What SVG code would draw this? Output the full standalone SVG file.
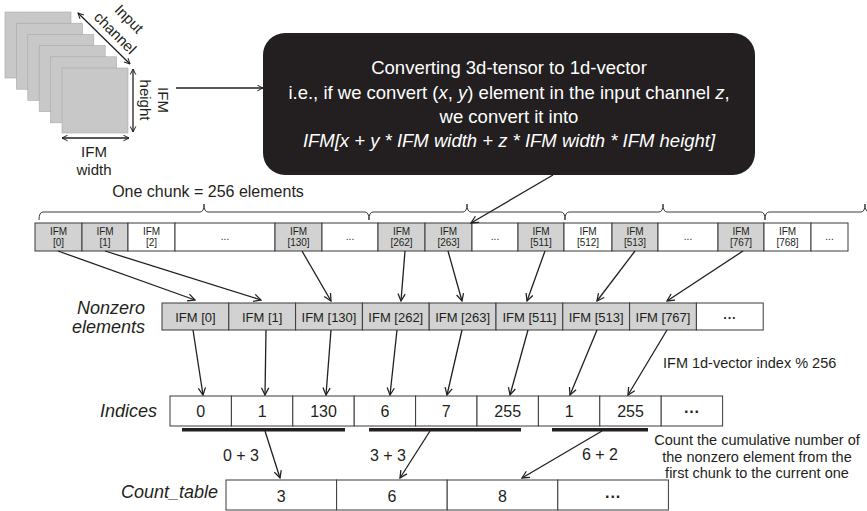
<svg xmlns="http://www.w3.org/2000/svg" width="867" height="511" viewBox="0 0 867 511">
<defs>
<marker id="ah" viewBox="0 0 10 10" refX="9" refY="5" markerWidth="9" markerHeight="9" markerUnits="userSpaceOnUse" orient="auto-start-reverse">
<path d="M1,1 L9,5 L1,9" fill="none" stroke="#231f20" stroke-width="1.4"/>
</marker>
<marker id="ahs" viewBox="0 0 10 10" refX="9" refY="5" markerWidth="7" markerHeight="7" markerUnits="userSpaceOnUse" orient="auto-start-reverse">
<path d="M1,1 L9,5 L1,9" fill="none" stroke="#231f20" stroke-width="1.4"/>
</marker>
</defs>
<style>
text{font-family:"Liberation Sans",Arial,Helvetica,sans-serif;fill:#231f20}
.it{font-style:italic}
.sq{fill:#c8c8c8;stroke:#a8a8a8;stroke-width:0.6}
.g{fill:#d2d2d2;stroke:#3a3a3a;stroke-width:1}
.w{fill:#ffffff;stroke:#3a3a3a;stroke-width:1}
.c10{font-size:10px;text-anchor:middle}
.c13{font-size:13px;text-anchor:middle}
.c15{font-size:16px;text-anchor:middle}
.lbl{font-size:18px;font-style:italic;text-anchor:end}
.ln{fill:none;stroke:#231f20;stroke-width:1.3}
.br{fill:none;stroke:#3a3a3a;stroke-width:1}
.bar{fill:#231f20}
.bx{fill:#ffffff;font-size:18.5px;text-anchor:middle}
</style>

<g id="ifm-stack">
<rect class="sq" x="5" y="12" width="66" height="66"/>
<rect class="sq" x="16.4" y="23.2" width="66" height="66"/>
<rect class="sq" x="27.8" y="34.4" width="66" height="66"/>
<rect class="sq" x="39.2" y="45.6" width="66" height="66"/>
<rect class="sq" x="50.6" y="56.8" width="66" height="66"/>
<rect class="sq" x="62" y="68" width="66" height="65"/>
<line class="ln" x1="78" y1="13" x2="130" y2="64" stroke-width="1" marker-start="url(#ahs)" marker-end="url(#ahs)"/>
<text transform="translate(129,19) rotate(45)" font-size="15" text-anchor="middle" y="5">Input</text>
<text transform="translate(115,33) rotate(45)" font-size="15" text-anchor="middle" y="5">channel</text>
<line class="ln" x1="133" y1="69" x2="133" y2="132" stroke-width="1" marker-start="url(#ahs)" marker-end="url(#ahs)"/>
<text transform="translate(163,100) rotate(90)" font-size="15" text-anchor="middle" y="5">IFM</text>
<text transform="translate(145,100) rotate(90)" font-size="15" text-anchor="middle" y="5">height</text>
<line class="ln" x1="62" y1="138" x2="129" y2="138" stroke-width="1" marker-start="url(#ahs)" marker-end="url(#ahs)"/>
<text x="94" y="157" font-size="15" text-anchor="middle">IFM</text>
<text x="94" y="175" font-size="15" text-anchor="middle">width</text>
</g>

<g id="convert-box">
<rect x="263" y="33" width="492" height="142" rx="22" fill="#231f20"/>
<text class="bx" x="509" y="74">Converting 3d-tensor to 1d-vector</text>
<text class="bx" x="509" y="99">i.e., if we convert (<tspan class="it">x</tspan>, <tspan class="it">y</tspan>) element in the input channel <tspan class="it">z</tspan>,</text>
<text class="bx" x="509" y="123">we convert it into</text>
<text class="bx it" x="509" y="147">IFM[x + y * IFM width + z * IFM width * IFM height]</text>
</g>

<g id="chunk-label">
<text x="208" y="197" font-size="16" text-anchor="middle">One chunk = 256 elements</text>
<path class="br" d="M39,220 Q39,212 43,212 L200,212 Q204,212 204,204 Q204,212 208,212 L365,212 Q369,212 369,220"/>
<path class="br" d="M369,220 Q369,212 373,212 L463,212 Q467,212 467,204 Q467,212 471,212 L561,212 Q565,212 565,220"/>
<path class="br" d="M565,220 Q565,212 569,212 L659,212 Q663,212 663,204 Q663,212 667,212 L761,212 Q765,212 765,220"/>
<path class="br" d="M765,220 Q765,212 769,212 L861,212 Q865,212 865,204 Q865,212 869,212"/>
</g>

<g id="ifm-vector">
<rect class="g" x="35" y="223" width="47" height="28"/>
<rect class="g" x="82" y="223" width="46" height="28"/>
<rect class="w" x="128" y="223" width="47" height="28"/>
<rect class="w" x="175" y="223" width="100" height="28"/>
<rect class="g" x="275" y="223" width="47" height="28"/>
<rect class="w" x="322" y="223" width="56" height="28"/>
<rect class="g" x="378" y="223" width="47" height="28"/>
<rect class="g" x="425" y="223" width="47" height="28"/>
<rect class="w" x="472" y="223" width="46" height="28"/>
<rect class="g" x="518" y="223" width="46" height="28"/>
<rect class="w" x="564" y="223" width="48" height="28"/>
<rect class="g" x="612" y="223" width="46" height="28"/>
<rect class="w" x="658" y="223" width="60" height="28"/>
<rect class="g" x="718" y="223" width="46" height="28"/>
<rect class="w" x="764" y="223" width="47" height="28"/>
<rect class="w" x="811" y="223" width="37" height="28"/>
<text class="c10" x="58.5" y="234.5">IFM</text><text class="c10" x="58.5" y="246">[0]</text>
<text class="c10" x="105" y="234.5">IFM</text><text class="c10" x="105" y="246">[1]</text>
<text class="c10" x="151.5" y="234.5">IFM</text><text class="c10" x="151.5" y="246">[2]</text>
<text class="c10" x="225" y="240">...</text>
<text class="c10" x="298.5" y="234.5">IFM</text><text class="c10" x="298.5" y="246">[130]</text>
<text class="c10" x="350" y="240">...</text>
<text class="c10" x="401.5" y="234.5">IFM</text><text class="c10" x="401.5" y="246">[262]</text>
<text class="c10" x="448.5" y="234.5">IFM</text><text class="c10" x="448.5" y="246">[263]</text>
<text class="c10" x="495" y="240">...</text>
<text class="c10" x="541" y="234.5">IFM</text><text class="c10" x="541" y="246">[511]</text>
<text class="c10" x="588" y="234.5">IFM</text><text class="c10" x="588" y="246">[512]</text>
<text class="c10" x="635" y="234.5">IFM</text><text class="c10" x="635" y="246">[513]</text>
<text class="c10" x="688" y="240">...</text>
<text class="c10" x="741" y="234.5">IFM</text><text class="c10" x="741" y="246">[767]</text>
<text class="c10" x="787.5" y="234.5">IFM</text><text class="c10" x="787.5" y="246">[768]</text>
<text class="c10" x="829.5" y="240">...</text>
</g>

<g id="nonzero">
<text class="lbl" x="145" y="314">Nonzero</text>
<text class="lbl" x="145" y="333">elements</text>
<rect class="g" x="162" y="303" width="66.8" height="27"/>
<rect class="g" x="228.8" y="303" width="66.8" height="27"/>
<rect class="g" x="295.6" y="303" width="66.8" height="27"/>
<rect class="g" x="362.4" y="303" width="66.8" height="27"/>
<rect class="g" x="429.2" y="303" width="66.8" height="27"/>
<rect class="g" x="496" y="303" width="66.8" height="27"/>
<rect class="g" x="562.8" y="303" width="66.8" height="27"/>
<rect class="g" x="629.6" y="303" width="66.8" height="27"/>
<rect class="w" x="696.4" y="303" width="66.8" height="27"/>
<text class="c13" x="195.4" y="321.5">IFM [0]</text>
<text class="c13" x="262.2" y="321.5">IFM [1]</text>
<text class="c13" x="329" y="321.5">IFM [130]</text>
<text class="c13" x="395.8" y="321.5">IFM [262]</text>
<text class="c13" x="462.6" y="321.5">IFM [263]</text>
<text class="c13" x="529.4" y="321.5">IFM [511]</text>
<text class="c13" x="596.2" y="321.5">IFM [513]</text>
<text class="c13" x="663" y="321.5">IFM [767]</text>
<text class="c13" x="729.8" y="321.5" font-weight="bold">···</text>
</g>

<g id="indices">
<text class="lbl" x="157" y="417">Indices</text>
<rect class="w" x="170" y="396" width="61.4" height="30"/>
<rect class="w" x="231.4" y="396" width="61.4" height="30"/>
<rect class="w" x="292.8" y="396" width="61.4" height="30"/>
<rect class="w" x="354.2" y="396" width="61.4" height="30"/>
<rect class="w" x="415.6" y="396" width="61.4" height="30"/>
<rect class="w" x="477" y="396" width="61.4" height="30"/>
<rect class="w" x="538.4" y="396" width="61.4" height="30"/>
<rect class="w" x="599.8" y="396" width="61.4" height="30"/>
<rect class="w" x="661.2" y="396" width="61.4" height="30"/>
<text class="c15" x="200.7" y="417">0</text>
<text class="c15" x="262.1" y="417">1</text>
<text class="c15" x="323.5" y="417">130</text>
<text class="c15" x="384.9" y="417">6</text>
<text class="c15" x="446.3" y="417">7</text>
<text class="c15" x="507.7" y="417">255</text>
<text class="c15" x="569.1" y="417">1</text>
<text class="c15" x="630.5" y="417">255</text>
<text class="c15" x="691.9" y="417" font-weight="bold">···</text>
<rect class="bar" x="182" y="428" width="163" height="3.5"/>
<rect class="bar" x="369" y="428" width="152" height="3.5"/>
<rect class="bar" x="552" y="428" width="96" height="3.5"/>
</g>

<g id="count-table">
<text class="lbl" x="218" y="498">Count_table</text>
<rect class="w" x="226" y="480" width="110.6" height="30"/>
<rect class="w" x="336.6" y="480" width="110.6" height="30"/>
<rect class="w" x="447.2" y="480" width="110.6" height="30"/>
<rect class="w" x="557.8" y="480" width="110.6" height="30"/>
<text class="c15" x="281.3" y="502">3</text>
<text class="c15" x="391.9" y="502">6</text>
<text class="c15" x="502.5" y="502">8</text>
<text class="c15" x="613.1" y="502" font-weight="bold">···</text>
</g>

<g id="annotations">
<text x="663" y="368" font-size="14.5">IFM 1d-vector index % 256</text>
<text x="757" y="445" font-size="14.5" text-anchor="middle">Count the cumulative number of</text>
<text x="757" y="462" font-size="14.5" text-anchor="middle">the nonzero element from the</text>
<text x="757" y="478" font-size="14.5" text-anchor="middle">first chunk to the current one</text>
<text x="241" y="461" font-size="16" text-anchor="middle">0 + 3</text>
<text x="388" y="461" font-size="16" text-anchor="middle">3 + 3</text>
<text x="600" y="460" font-size="16" text-anchor="middle">6 + 2</text>
</g>

<g id="connectors">
<line class="ln" x1="176" y1="88" x2="263" y2="88" marker-end="url(#ahs)"/>
<line class="ln" x1="553" y1="175" x2="471" y2="223" marker-end="url(#ah)"/>
<line class="ln" x1="58" y1="251" x2="195" y2="300" marker-end="url(#ah)"/>
<line class="ln" x1="105" y1="251" x2="261" y2="300" marker-end="url(#ah)"/>
<line class="ln" x1="302" y1="251" x2="331" y2="301" marker-end="url(#ah)"/>
<line class="ln" x1="405" y1="251" x2="401" y2="301" marker-end="url(#ah)"/>
<line class="ln" x1="448" y1="251" x2="462" y2="301" marker-end="url(#ah)"/>
<line class="ln" x1="545" y1="251" x2="527" y2="301" marker-end="url(#ah)"/>
<line class="ln" x1="635" y1="251" x2="597" y2="301" marker-end="url(#ah)"/>
<line class="ln" x1="743" y1="251" x2="667" y2="301" marker-end="url(#ah)"/>
<line class="ln" x1="193" y1="330" x2="203" y2="395" marker-end="url(#ah)"/>
<line class="ln" x1="266" y1="330" x2="265" y2="395" marker-end="url(#ah)"/>
<line class="ln" x1="331" y1="330" x2="326" y2="395" marker-end="url(#ah)"/>
<line class="ln" x1="397" y1="330" x2="390" y2="395" marker-end="url(#ah)"/>
<line class="ln" x1="462" y1="330" x2="447" y2="395" marker-end="url(#ah)"/>
<line class="ln" x1="528" y1="330" x2="510" y2="395" marker-end="url(#ah)"/>
<line class="ln" x1="597" y1="330" x2="570" y2="395" marker-end="url(#ah)"/>
<line class="ln" x1="667" y1="330" x2="628" y2="395" marker-end="url(#ah)"/>
<line class="ln" x1="265" y1="431" x2="280" y2="478" marker-end="url(#ah)"/>
<line class="ln" x1="430" y1="431" x2="400" y2="478" marker-end="url(#ah)"/>
<line class="ln" x1="602" y1="431" x2="522" y2="478" marker-end="url(#ah)"/>
</g>
</svg>
